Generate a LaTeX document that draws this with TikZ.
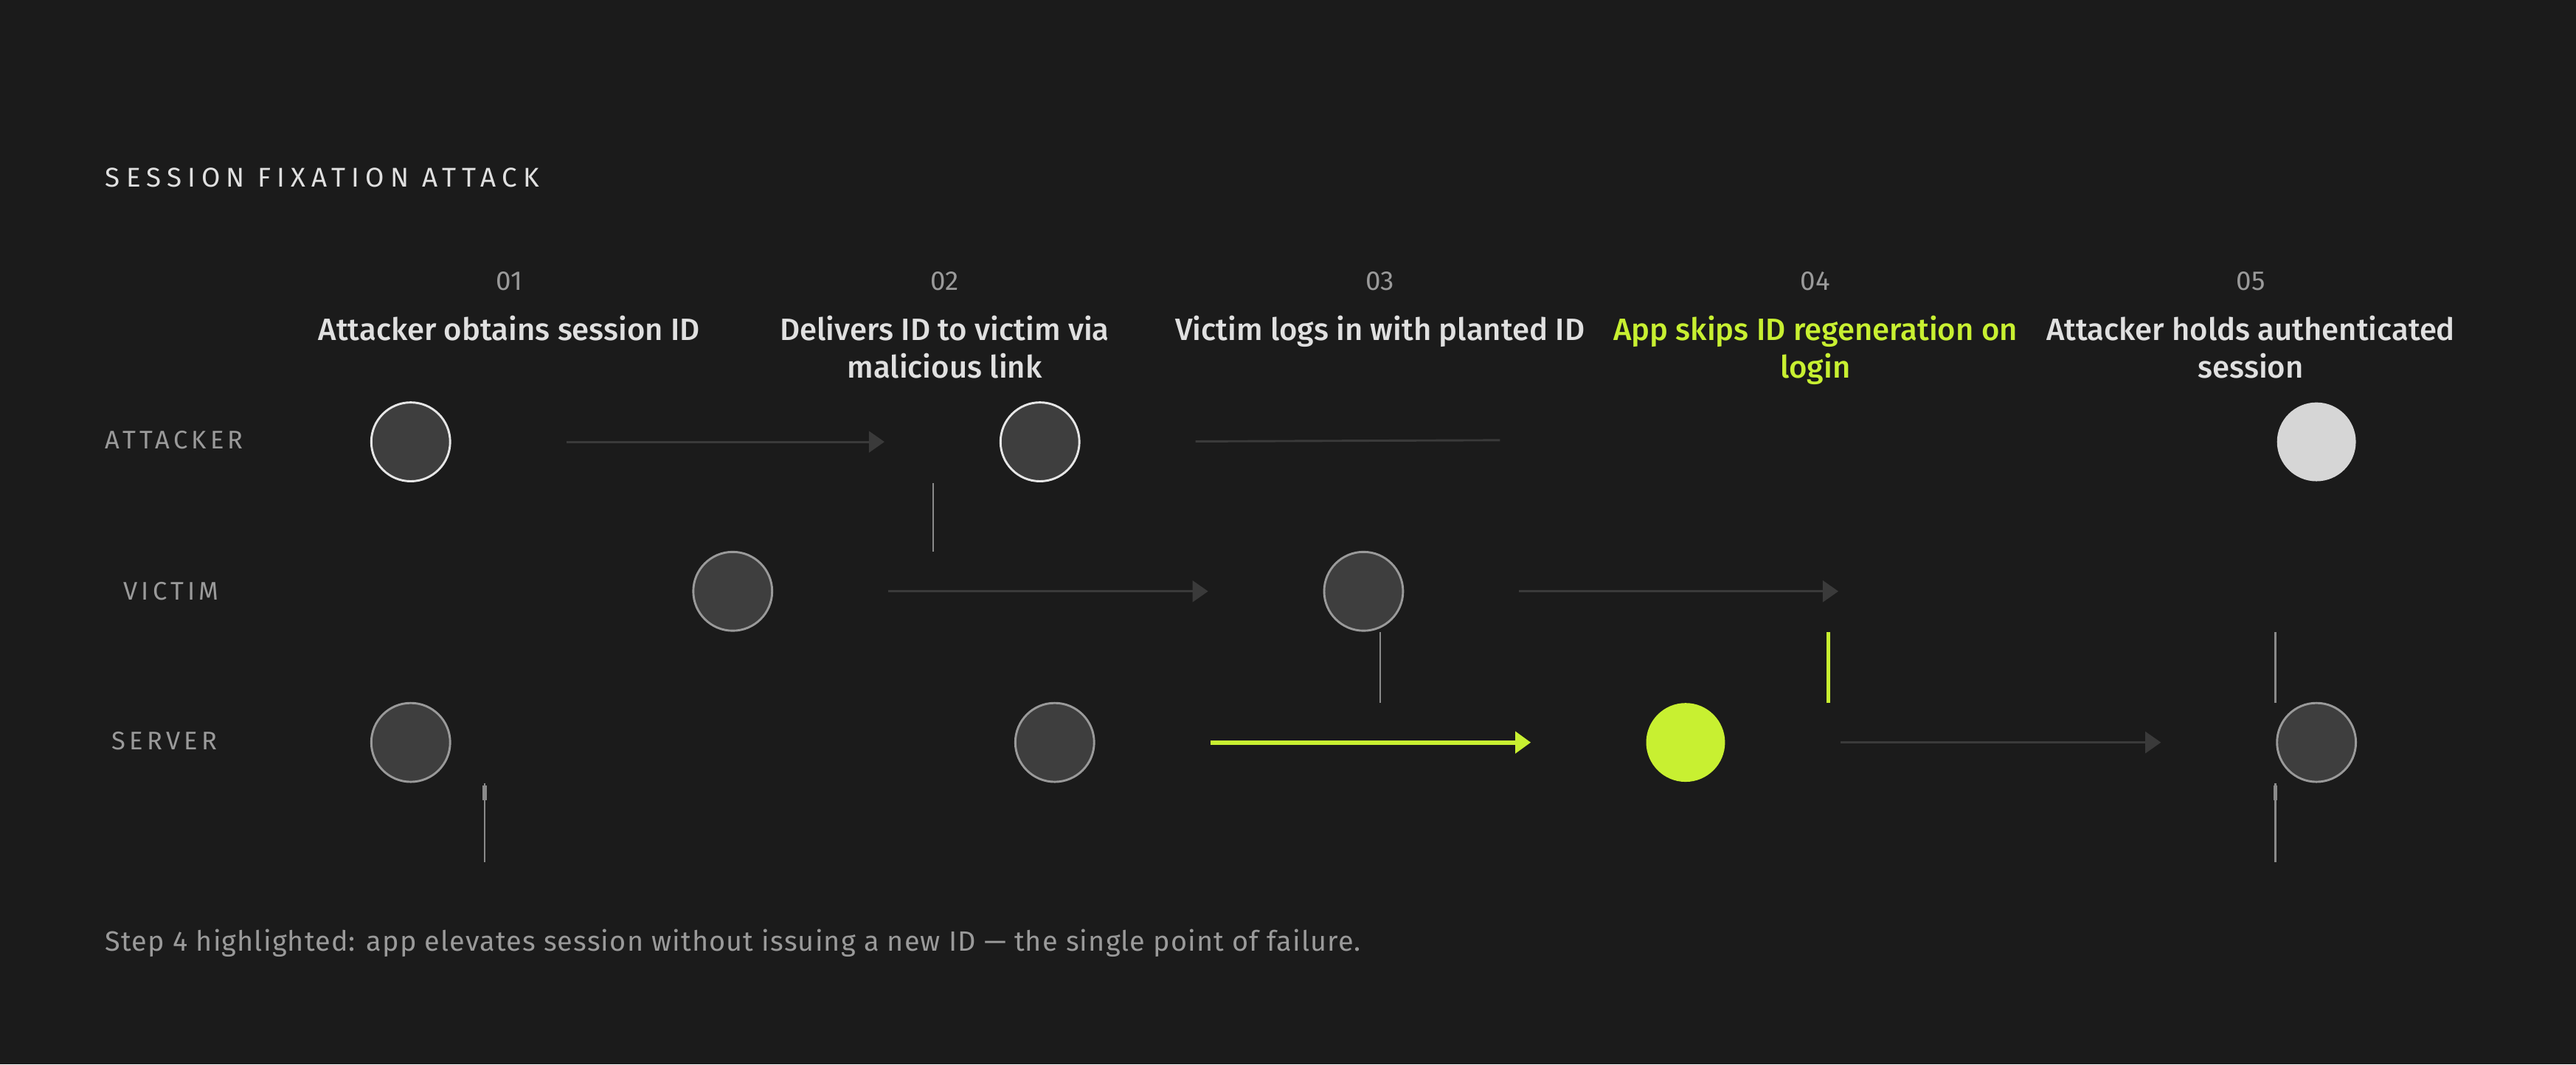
\documentclass[tikz,border=0pt]{standalone}
\usepackage{fontspec}
\setmainfont{Fira Sans}
\newfontfamily\medfont{Fira Sans Medium}
\usetikzlibrary{arrows.meta}
\usetikzlibrary{positioning}

\definecolor{bgdark}{HTML}{1B1B1B}
\definecolor{dotfill}{HTML}{3E3E3E}
\definecolor{ringlight}{HTML}{E6E6E6}
\definecolor{ringgray}{HTML}{9A9A9A}
\definecolor{donefill}{HTML}{D6D6D6}
\definecolor{lime}{HTML}{C8F031}
\definecolor{wire}{HTML}{3A3A3A}
\definecolor{tickgray}{HTML}{8A8A8A}
\definecolor{textlight}{HTML}{E0E0E0}
\definecolor{muted}{HTML}{9A9A9A}

\begin{document}
\begin{tikzpicture}[x=1pt,y=-1pt,
    lane/.style={font=\fontsize{15.5}{17}\selectfont\addfontfeatures{LetterSpace=15},
      text=muted, inner sep=0pt, anchor=west},
    stepnum/.style={font=\fontsize{16.5}{18}\selectfont, text=muted, inner sep=0pt},
    steptitle/.style={font=\medfont\fontsize{18.8}{23}\selectfont, align=center,
      inner sep=0pt, anchor=north},
    dot/.style={circle, minimum size=48pt, inner sep=0pt, fill=dotfill},
    actor/.style={dot, draw=ringlight, line width=1.3pt},
    party/.style={dot, draw=ringgray, line width=1.3pt},
    held/.style={circle, minimum size=48pt, inner sep=0pt, fill=donefill},
    fail/.style={circle, minimum size=48pt, inner sep=0pt, fill=lime},
    msg/.style={draw=wire, line width=1.3pt, -{Triangle[length=9.5pt,width=13pt]},
      shorten <=70pt, shorten >=70pt},
    hotmsg/.style={msg, draw=lime, fill=lime, line width=2.6pt,
      -{Triangle[length=9.5pt,width=13pt]}},
    tick/.style={draw=tickgray, line width=1.1pt},
    hottick/.style={draw=lime, line width=2.4pt}]

  \fill[bgdark] (0,0) rectangle (1568,648);
  \useasboundingbox (0,0) rectangle (1568,648);

  \node[font=\fontsize{16.5}{18}\selectfont\addfontfeatures{LetterSpace=22},
    text=textlight, inner sep=0pt, anchor=west] (title) at (64,108)
    {SESSION FIXATION ATTACK};

  % step headings
  \foreach \n/\x/\col/\txt in {
      01/310/textlight/{Attacker obtains session ID},
      02/575/textlight/{Delivers ID to victim via\\malicious link},
      03/840/textlight/{Victim logs in with planted ID},
      04/1105/lime/{App skips ID regeneration on\\login},
      05/1370/textlight/{Attacker holds authenticated\\session}} {
    \node[stepnum] (num\n) at (\x,171) {\n};
    \node[steptitle, text=\col] (title\n) at (\x,192) {\txt};
  }

  % lanes
  \node[lane] (attacker) at (64,268) {ATTACKER};
  \node[lane] (victim) at (75,360) {VICTIM};
  \node[lane] (server) at (68,451) {SERVER};

  % attacker row
  \node[actor] (a1) at (250,269) {};
  \node[actor] (a2) at (633,269) {};
  \node[held] (a5) at (1410,269) {};
  % victim row
  \node[party] (v1) at (446,360) {};
  \node[party] (v2) at (830,360) {};
  % server row
  \node[party] (s1) at (250,452) {};
  \node[party] (s2) at (642,452) {};
  \node[fail] (s3) at (1026,452) {};
  \node[party] (s4) at (1410,452) {};

  \coordinate (aend) at (913,268);
  \coordinate (vend) at (1119,360);

  \draw[msg] (a1.east) -- (a2.west);
  \draw[msg, -, shorten >=0pt] (a2.east) -- (aend);
  \draw[msg] (v1.east) -- (v2.west);
  \draw[msg, shorten >=0pt] (v2.east) -- (vend);
  \draw[hotmsg] (s2.east) -- (s3.west);
  \draw[msg] (s3.east) -- (s4.west);

  % hand-offs between rows
  \coordinate (t2top) at (568,294);  \coordinate (t2bot) at (568,336);
  \coordinate (t3top) at (840,385);  \coordinate (t3bot) at (840,428);
  \coordinate (t4top) at (1113,385); \coordinate (t4bot) at (1113,428);
  \coordinate (t5top) at (1385,385); \coordinate (t5bot) at (1385,428);
  \coordinate (b1top) at (295,477);  \coordinate (b1bot) at (295,525);
  \coordinate (b5top) at (1385,477); \coordinate (b5bot) at (1385,525);

  \draw[tick] (t2top) -- (t2bot);
  \draw[tick] (t3top) -- (t3bot);
  \draw[hottick] (t4top) -- (t4bot);
  \draw[tick] (t5top) -- (t5bot);
  \foreach \b in {b1,b5} {
    \draw[tick] (\b top) -- (\b bot);
    \draw[tick, line width=2.4pt] ([yshift=-1pt]\b top) -- ++(0,9);
  }

  \node[font=\fontsize{17}{19}\selectfont\addfontfeatures{LetterSpace=3}, text=muted,
    inner sep=0pt, anchor=west] (note) at (64,574)
    {Step 4 highlighted: app elevates session without issuing a new ID — the single point of failure.};
\end{tikzpicture}
\end{document}
